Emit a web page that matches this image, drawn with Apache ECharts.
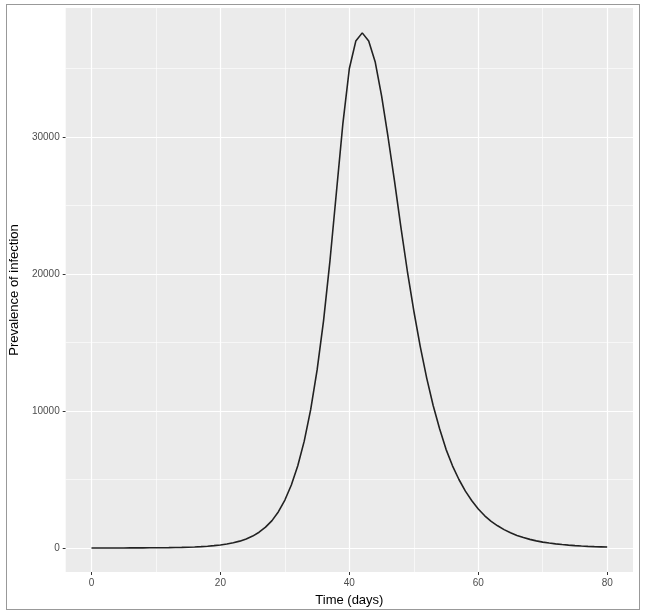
<!DOCTYPE html>
<html><head><meta charset="utf-8">
<script src="https://cdn.jsdelivr.net/npm/echarts@6/dist/echarts.min.js"></script>
<style>
body{margin:0;background:#fff}
#box{position:absolute;left:6px;top:4px;width:634px;height:606px;border:1px solid #999;box-sizing:border-box}
#chart{position:absolute;left:0;top:0;width:647px;height:615px}
</style></head><body>
<div id="box"></div>
<div id="chart"></div>
<script>
var days = [];
for (var i = 0; i <= 80; i++) days.push(i);
var prevalence = [
  0,1,2,3,4,5,6,8,10,13,
  17,22,28,36,47,60,78,100,130,170,
  220,290,380,500,660,870,1150,1520,2000,2650,
  3500,4600,6000,7800,10100,13000,16600,21000,26000,31000,
  35000,37000,37600,37000,35500,33000,30000,26800,23400,20200,
  17300,14700,12400,10400,8700,7200,6000,5000,4150,3450,
  2850,2350,1950,1620,1340,1110,920,760,630,520,
  430,360,300,250,210,175,145,120,100,85,70
];
var xTicks = [0, 20, 40, 60, 80];
var xMinor = [10, 30, 50, 70];
var yTicks = [0, 10000, 20000, 30000];
var yMinor = [5000, 15000, 25000, 35000];

var chart = echarts.init(document.getElementById('chart'));
var lineList = function (key, vals, w) {
  return vals.map(function (v) {
    var o = { lineStyle: { color: '#fff', width: w, type: 'solid' } };
    o[key] = v;
    return o;
  });
};
chart.setOption({
  animation: false,
  grid: { left: 63, right: 14, top: 8, bottom: 43, backgroundColor: '#EBEBEB', show: true, borderWidth: 0 },
  xAxis: {
    type: 'value', min: -4, max: 84,
    name: 'Time (days)', nameLocation: 'middle', nameGap: 22,
    nameTextStyle: { fontFamily: 'Liberation Sans', fontSize: 13, color: '#000' },
    axisLine: { show: false, onZero: false },
    axisTick: { show: true, length: 3, lineStyle: { color: '#333' }, customValues: xTicks },
    axisLabel: { customValues: xTicks, color: '#4D4D4D', fontSize: 10, margin: 6, fontFamily: 'Liberation Sans' },
    splitLine: { show: false }
  },
  yAxis: {
    type: 'value', min: -1752, max: 39416,
    name: 'Prevalence of infection', nameLocation: 'middle', nameGap: 42,
    nameTextStyle: { fontFamily: 'Liberation Sans', fontSize: 13, color: '#000' },
    axisLine: { show: false, onZero: false },
    axisTick: { show: true, length: 3, lineStyle: { color: '#333' }, customValues: yTicks },
    axisLabel: { customValues: yTicks, color: '#4D4D4D', fontSize: 10, margin: 6, fontFamily: 'Liberation Sans',
      formatter: function (v) { return String(v); } },
    splitLine: { show: false }
  },
  series: [{
    type: 'line', data: days.map(function (d, i) { return [d, prevalence[i]]; }),
    showSymbol: false, lineStyle: { color: '#222', width: 1.6 }, z: 5
  }, {
    type: 'line', data: [], silent: true,
    markLine: {
      symbol: 'none', silent: true, label: { show: false },
      data: lineList('yAxis', yMinor, 0.6).concat(lineList('yAxis', yTicks, 1.2))
        .concat(lineList('xAxis', xMinor, 0.6)).concat(lineList('xAxis', xTicks, 1.2))
    }
  }]
});
</script></body></html>
